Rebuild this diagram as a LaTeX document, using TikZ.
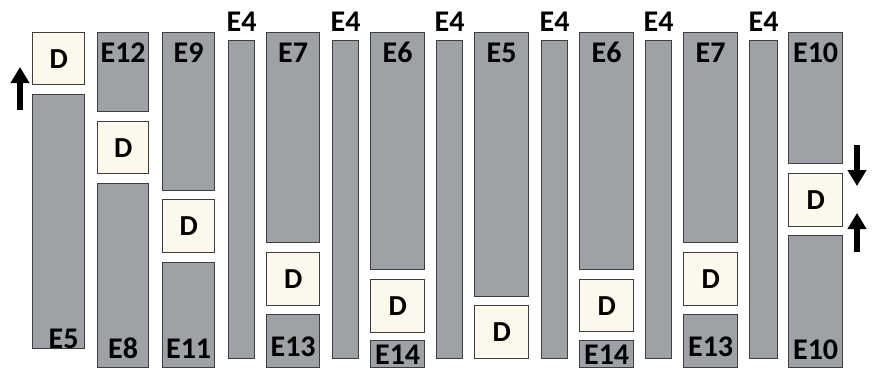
\documentclass[tikz,border=0pt]{standalone}
\usepackage{fontspec}
\setsansfont{Carlito}
\usetikzlibrary{arrows.meta, positioning}
\definecolor{stonegray}{RGB}{158,162,166}
\definecolor{jointcream}{RGB}{252,248,236}
\definecolor{edgegray}{RGB}{62,62,62}

\tikzset{
  stone/.style={draw=edgegray, fill=stonegray, line width=1.3pt,
                anchor=north west, inner sep=0pt},
  joint/.style={draw=edgegray, fill=jointcream, line width=1.3pt,
                anchor=north west, inner sep=0pt,
                font=\sffamily\bfseries\fontsize{29}{29}\selectfont},
  tag/.style={font=\sffamily\bfseries\fontsize{30}{30}\selectfont,
              anchor=base, inner sep=0pt},
  push/.style={line width=6pt, -{Triangle[width=18pt,length=16pt]}}
}

\begin{document}
\begin{tikzpicture}[x=1pt, y=-1pt]
\useasboundingbox (0,0) rectangle (875,369);

% column 1
\node[joint, minimum width=52pt, minimum height=52pt] (d1) at (32,32) {D};
\node[stone, minimum width=52pt, minimum height=254pt] (s1) at (32,94) {};
\node[tag] (t1) at ([xshift=5pt,yshift=1pt]s1.south) {E5};

% column 2
\node[stone, minimum width=51pt, minimum height=79pt] (s2a) at (97,32) {};
\node[joint, minimum width=51pt, minimum height=52pt] (d2) at (97,121) {D};
\node[stone, minimum width=51pt, minimum height=184pt] (s2b) at (97,183) {};
\node[tag] (t2a) at ([yshift=-31pt]s2a.north) {E12};
\node[tag] (t2b) at ([yshift=10pt]s2b.south) {E8};

% column 3
\node[stone, minimum width=52pt, minimum height=158pt] (s3a) at (162,32) {};
\node[joint, minimum width=52pt, minimum height=53pt] (d3) at (162,199) {D};
\node[stone, minimum width=52pt, minimum height=105pt] (s3b) at (162,262) {};
\node[tag] (t3a) at ([yshift=-31pt]s3a.north) {E9};
\node[tag] (t3b) at ([yshift=10pt]s3b.south) {E11};

% column 5
\node[stone, minimum width=53pt, minimum height=210pt] (s5a) at (266,32) {};
\node[joint, minimum width=53pt, minimum height=53pt] (d5) at (266,252) {D};
\node[stone, minimum width=53pt, minimum height=53pt] (s5b) at (266,314) {};
\node[tag] (t5a) at ([yshift=-31pt]s5a.north) {E7};
\node[tag] (t5b) at ([yshift=12pt]s5b.south) {E13};

% column 7
\node[stone, minimum width=54pt, minimum height=237pt] (s7a) at (370,32) {};
\node[joint, minimum width=54pt, minimum height=53pt] (d7) at (370,279) {D};
\node[stone, minimum width=54pt, minimum height=27pt] (s7b) at (370,340) {};
\node[tag] (t7a) at ([yshift=-31pt]s7a.north) {E6};
\node[tag] (t7b) at ([yshift=4pt]s7b.south) {E14};

% column 9
\node[stone, minimum width=54pt, minimum height=264pt] (s9a) at (474,32) {};
\node[joint, minimum width=54pt, minimum height=53pt] (d9) at (474,305) {D};
\node[tag] (t9a) at ([yshift=-31pt]s9a.north) {E5};

% column 11
\node[stone, minimum width=54pt, minimum height=237pt] (s11a) at (579,32) {};
\node[joint, minimum width=54pt, minimum height=52pt] (d11) at (579,279) {D};
\node[stone, minimum width=54pt, minimum height=27pt] (s11b) at (579,340) {};
\node[tag] (t11a) at ([yshift=-31pt]s11a.north) {E6};
\node[tag] (t11b) at ([yshift=4pt]s11b.south) {E14};

% column 13
\node[stone, minimum width=54pt, minimum height=210pt] (s13a) at (683,32) {};
\node[joint, minimum width=54pt, minimum height=53pt] (d13) at (683,252) {D};
\node[stone, minimum width=54pt, minimum height=53pt] (s13b) at (683,314) {};
\node[tag] (t13a) at ([yshift=-31pt]s13a.north) {E7};
\node[tag] (t13b) at ([yshift=12pt]s13b.south) {E13};

% column 15
\node[stone, minimum width=54pt, minimum height=131pt] (s15a) at (788,32) {};
\node[joint, minimum width=54pt, minimum height=53pt] (d15) at (788,173) {D};
\node[stone, minimum width=54pt, minimum height=132pt] (s15b) at (788,235) {};
\node[tag] (t15a) at ([yshift=-31pt]s15a.north) {E10};
\node[tag] (t15b) at ([yshift=9pt]s15b.south) {E10};

% thin E4 bars
\foreach \x/\w/\n in {228/26/1, 332/26/2, 436/26/3, 541/26/4, 645/26/5, 749/28/6} {
  \node[stone, minimum width=\w pt, minimum height=318pt] (e4\n) at (\x,40) {};
  \node[tag] (t4\n) at ([yshift=8pt]e4\n.north) {E4};
}

% arrows
\coordinate (upfoot) at (20,110);
\coordinate (uptip) at (20,67);
\coordinate (downfoot) at (857,145);
\coordinate (downtip) at (857,186);
\coordinate (risefoot) at (857,252);
\coordinate (risetip) at (857,213);
\draw[push] (upfoot) -- (uptip);
\draw[push] (downfoot) -- (downtip);
\draw[push] (risefoot) -- (risetip);
\end{tikzpicture}
\end{document}
